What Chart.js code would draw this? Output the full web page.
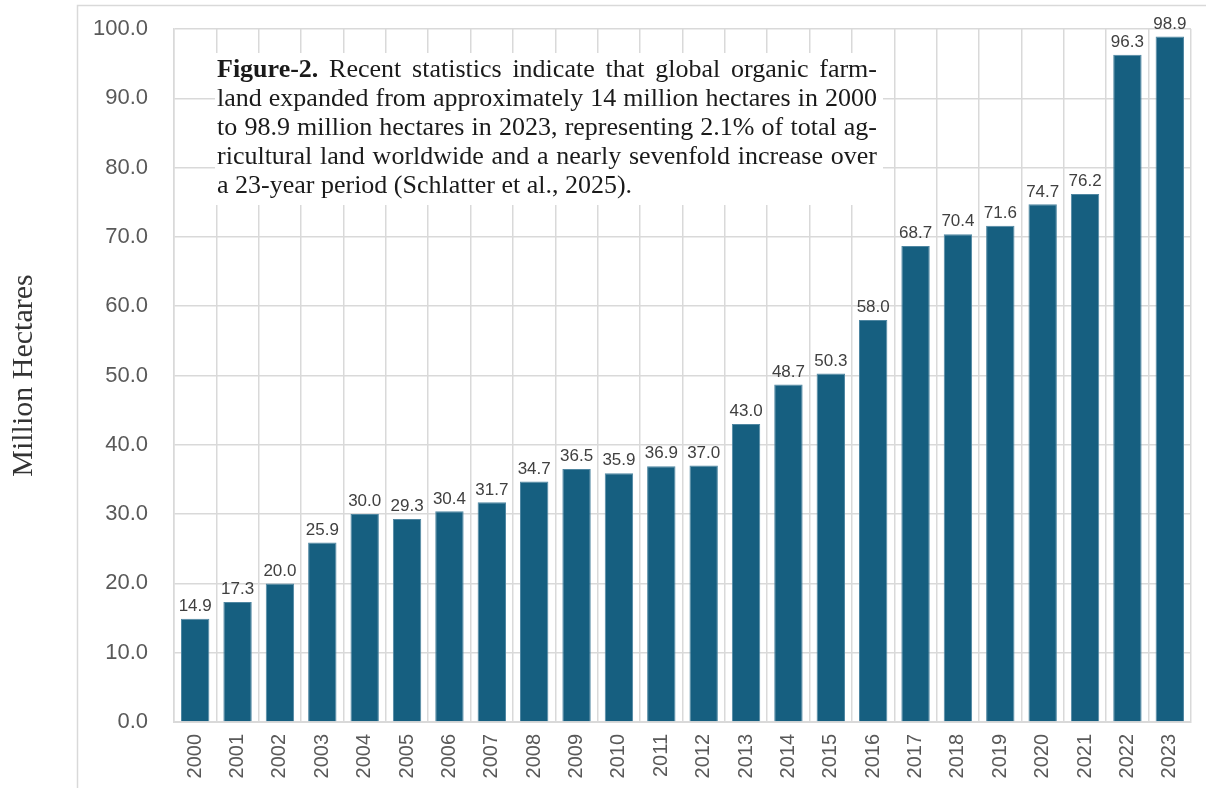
<!DOCTYPE html>
<html>
<head>
<meta charset="utf-8">
<script src="https://cdn.jsdelivr.net/npm/chart.js@4/dist/chart.umd.min.js"></script>
<style>
  html, body { margin: 0; padding: 0; background: #fff; }
  #wrap { width: 1206px; height: 788px; position: relative; }
</style>
</head>
<body>
<div id="wrap"><canvas id="farmChart" width="1206" height="788"></canvas></div>
<script>
// data
var years = ["2000", "2001", "2002", "2003", "2004", "2005", "2006", "2007", "2008", "2009", "2010", "2011",
  "2012", "2013", "2014", "2015", "2016", "2017", "2018", "2019", "2020", "2021", "2022", "2023"];
var hectares = [14.9, 17.3, 20.0, 25.9, 30.0, 29.3, 30.4, 31.7, 34.7, 36.5, 35.9, 36.9,
  37.0, 43.0, 48.7, 50.3, 58.0, 68.7, 70.4, 71.6, 74.7, 76.2, 96.3, 98.9];
var yTicks = [0, 10, 20, 30, 40, 50, 60, 70, 80, 90, 100];

var captionLines = [
  "Figure-2. Recent statistics indicate that global organic farm-",
  "land expanded from approximately 14 million hectares in 2000",
  "to 98.9 million hectares in 2023, representing 2.1% of total ag-",
  "ricultural land worldwide and a nearly sevenfold increase over",
  "a 23-year period (Schlatter et al., 2025)."
];

var barColor = "#165f80";
var gridColor = "#d9d9d9";
var serif = "'Liberation Serif', 'DejaVu Serif', serif";
var sans = "'Liberation Sans', Arial, sans-serif";

// frame around the plot, like the original figure
var framePlugin = {
  id: "frame",
  beforeDraw: function (chart) {
    var ctx = chart.ctx;
    ctx.save();
    ctx.strokeStyle = gridColor;
    ctx.lineWidth = 1.5;
    ctx.beginPath();
    ctx.moveTo(77.5, 800);
    ctx.lineTo(77.5, 5.5);
    ctx.lineTo(1220, 5.5);
    ctx.stroke();
    ctx.restore();
  }
};

// value labels over the bars
var valueLabels = {
  id: "valueLabels",
  afterDatasetsDraw: function (chart) {
    var ctx = chart.ctx;
    var meta = chart.getDatasetMeta(0);
    ctx.save();
    ctx.font = "17px " + sans;
    ctx.fillStyle = "#404040";
    ctx.textAlign = "center";
    ctx.textBaseline = "bottom";
    meta.data.forEach(function (bar, i) {
      ctx.fillText(hectares[i].toFixed(1), bar.x, bar.y - 4);
    });
    ctx.restore();
  }
};

// justified caption box in the upper left of the plot
var captionBox = {
  id: "captionBox",
  afterDraw: function (chart) {
    var ctx = chart.ctx;
    var area = chart.chartArea;
    var left = area.left + 41, top = area.top + 24;
    var boxW = 668, boxH = 152;
    var textW = 660, lineH = 29;
    ctx.save();
    ctx.fillStyle = "#fff";
    ctx.fillRect(left, top, boxW, boxH);
    ctx.fillStyle = "#1a1a1a";
    ctx.textBaseline = "alphabetic";
    ctx.textAlign = "left";
    var regular = "26px " + serif;
    var bold = "bold 26px " + serif;
    captionLines.forEach(function (line, li) {
      var words = line.split(" ");
      var fonts = words.map(function (w, wi) {
        return (li === 0 && wi === 0) ? bold : regular;
      });
      var widths = words.map(function (w, wi) {
        ctx.font = fonts[wi];
        return ctx.measureText(w).width;
      });
      var sum = widths.reduce(function (a, b) { return a + b; }, 0);
      ctx.font = regular;
      var gap = ctx.measureText(" ").width;
      if (li < captionLines.length - 1) {
        gap = (textW - sum) / (words.length - 1);
      }
      var x = left + 2;
      var y = top + 24 + li * lineH;
      words.forEach(function (w, wi) {
        ctx.font = fonts[wi];
        ctx.fillText(w, x, y);
        x += widths[wi] + gap;
      });
    });
    ctx.restore();
  }
};

var ctx = document.getElementById("farmChart").getContext("2d");
var farmChart = new Chart(ctx, {
  type: "bar",
  data: {
    labels: years,
    datasets: [
      {
        label: "Million Hectares",
        data: hectares,
        backgroundColor: barColor,
        borderColor: "#4f87a2",
        borderWidth: 1,
        barPercentage: 0.67,
        categoryPercentage: 1.0
      }
    ]
  },
  options: {
    responsive: false,
    animation: false,
    layout: { padding: { top: 29, right: 10, left: 0, bottom: 0 } },
    plugins: {
      legend: { display: false },
      tooltip: { enabled: false }
    },
    scales: {
      x: {
        grid: { color: gridColor, lineWidth: 1.5, drawTicks: false, offset: true },
        border: { color: gridColor, width: 2 },
        ticks: {
          color: "#595959",
          font: { family: sans, size: 20 },
          minRotation: 90,
          maxRotation: 90,
          padding: 12,
          autoSkip: false
        },
        afterFit: function (scale) { scale.height = 66; }
      },
      y: {
        min: 0,
        max: 100,
        afterBuildTicks: function (scale) {
          scale.ticks = yTicks.map(function (v) { return { value: v }; });
        },
        // invisible tick marks push the labels away from the axis
        grid: { color: gridColor, lineWidth: 1.5, drawTicks: true, tickLength: 22, tickColor: "rgba(0,0,0,0)" },
        border: { color: gridColor, width: 1.5 },
        ticks: {
          color: "#595959",
          font: { family: sans, size: 22 },
          padding: 4,
          callback: function (v) { return Number(v).toFixed(1); }
        },
        title: {
          display: true,
          text: "Million Hectares",
          color: "#333",
          font: { family: serif, size: 30 },
          padding: { top: 6, bottom: 0 }
        },
        afterFit: function (scale) { scale.width = 174; }
      }
    }
  },
  plugins: [framePlugin, valueLabels, captionBox]
});
</script>
</body>
</html>
